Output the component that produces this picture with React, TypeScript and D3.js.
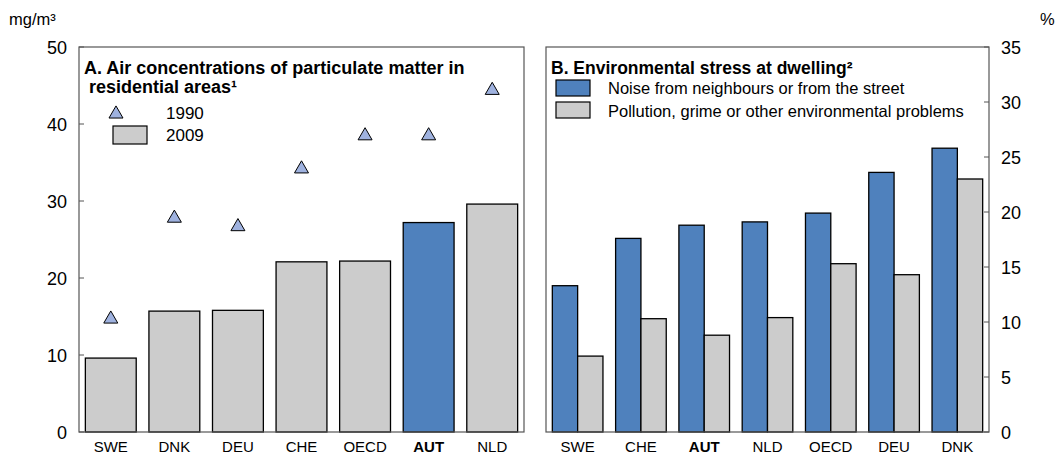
import React from "react";
import * as d3 from "d3";

const catsA = ["SWE", "DNK", "DEU", "CHE", "OECD", "AUT", "NLD"];
const vals2009 = [9.6, 15.7, 15.8, 22.1, 22.2, 27.2, 29.6];
const vals1990 = [14.8, 27.9, 26.8, 34.3, 38.6, 38.6, 44.5];
const ticksA = [0, 10, 20, 30, 40, 50];

const catsB = ["SWE", "CHE", "AUT", "NLD", "OECD", "DEU", "DNK"];
const noise = [13.3, 17.6, 18.8, 19.1, 19.9, 23.6, 25.8];
const pollution = [6.9, 10.3, 8.8, 10.4, 15.3, 14.3, 23.0];
const ticksB = [0, 5, 10, 15, 20, 25, 30, 35];

const highlight = "AUT";
const BLUE = "#4f81bd";
const GREY = "#cccccc";
const TRI = "#9fb2df";
const FONT = "Liberation Sans, Arial, sans-serif";

export default function App() {
  const top = 47, bottom = 432;
  const ax0 = 79, ax1 = 524, bx0 = 546, bx1 = 989;
  const yA = d3.scaleLinear().domain([0, 50]).range([bottom, top]);
  const yB = d3.scaleLinear().domain([0, 35]).range([bottom, top]);
  const xA = d3.scaleBand().domain(catsA).range([ax0, ax1]).paddingInner(0.2).paddingOuter(0.1);
  const xB = d3.scaleBand().domain(catsB).range([bx0, bx1]).paddingInner(0.2).paddingOuter(0.1);
  const tri = d3.symbol().type(d3.symbolTriangle).size(85)();

  return (
    <svg width={1058} height={454} style={{ position: "absolute", left: 0, top: 0 }} fontFamily={FONT}>
      <rect x={0} y={0} width={1058} height={454} fill="#fff" />
      {/* Panel A */}
      <text x={9} y={25} fontSize={16.5}>mg/m³</text>
      {ticksA.map((t) => (
        <g key={"ta" + t}>
          <line x1={ax0} x2={ax0 + 5} y1={yA(t)} y2={yA(t)} stroke="#555" />
          <text x={67} y={yA(t) + 6.5} fontSize={18} textAnchor="end">{t}</text>
        </g>
      ))}
      {catsA.map((c, i) => (
        <rect key={"ba" + c} x={xA(c)} y={yA(vals2009[i])} width={xA.bandwidth()} height={yA(0) - yA(vals2009[i])}
          fill={c === highlight ? BLUE : GREY} stroke="#000" strokeWidth={1.3} />
      ))}
      {catsA.map((c, i) => (
        <path key={"tr" + c} d={tri} transform={`translate(${xA(c)! + xA.bandwidth() / 2},${yA(vals1990[i]) + 1})`}
          fill={TRI} stroke="#000" strokeWidth={1} />
      ))}
      {catsA.map((c) => (
        <text key={"la" + c} x={xA(c)! + xA.bandwidth() / 2} y={452} fontSize={15} textAnchor="middle"
          fontWeight={c === highlight ? "bold" : "normal"}>{c}</text>
      ))}
      <rect x={ax0} y={top} width={ax1 - ax0} height={bottom - top} fill="none" stroke="#555" strokeWidth={1.2} />
      <text x={84} y={74} fontSize={18} fontWeight="bold">A. Air concentrations of particulate matter in</text>
      <text x={89} y={93} fontSize={18} fontWeight="bold">residential areas¹</text>
      <path d={tri} transform="translate(116,114)" fill={TRI} stroke="#000" strokeWidth={1} />
      <text x={166} y={119} fontSize={17}>1990</text>
      <rect x={113} y={126} width={34} height={18} fill={GREY} stroke="#000" strokeWidth={1.2} />
      <text x={166} y={141} fontSize={17}>2009</text>

      {/* Panel B */}
      <text x={1040} y={25} fontSize={16.5}>%</text>
      {ticksB.map((t) => (
        <g key={"tb" + t}>
          <line x1={bx1 - 5} x2={bx1} y1={yB(t)} y2={yB(t)} stroke="#555" />
          <text x={1001} y={yB(t) + 6.5} fontSize={18}>{t}</text>
        </g>
      ))}
      {catsB.map((c, i) => {
        const w = xB.bandwidth() / 2;
        return (
          <g key={"bb" + c}>
            <rect x={xB(c)} y={yB(noise[i])} width={w} height={yB(0) - yB(noise[i])} fill={BLUE} stroke="#000" strokeWidth={1.3} />
            <rect x={xB(c)! + w} y={yB(pollution[i])} width={w} height={yB(0) - yB(pollution[i])} fill={GREY} stroke="#000" strokeWidth={1.3} />
            <text x={xB(c)! + xB.bandwidth() / 2} y={452} fontSize={15} textAnchor="middle"
              fontWeight={c === highlight ? "bold" : "normal"}>{c}</text>
          </g>
        );
      })}
      <rect x={bx0} y={top} width={bx1 - bx0} height={bottom - top} fill="none" stroke="#555" strokeWidth={1.2} />
      <text x={551} y={74} fontSize={17.5} fontWeight="bold">B. Environmental stress at dwelling²</text>
      <rect x={556} y={80} width={34} height={16} fill={BLUE} stroke="#000" strokeWidth={1.2} />
      <text x={608} y={94} fontSize={16.5}>Noise from neighbours or from the street</text>
      <rect x={556} y={102} width={34} height={16} fill={GREY} stroke="#000" strokeWidth={1.2} />
      <text x={608} y={117} fontSize={16.5}>Pollution, grime or other environmental problems</text>
    </svg>
  );
}
